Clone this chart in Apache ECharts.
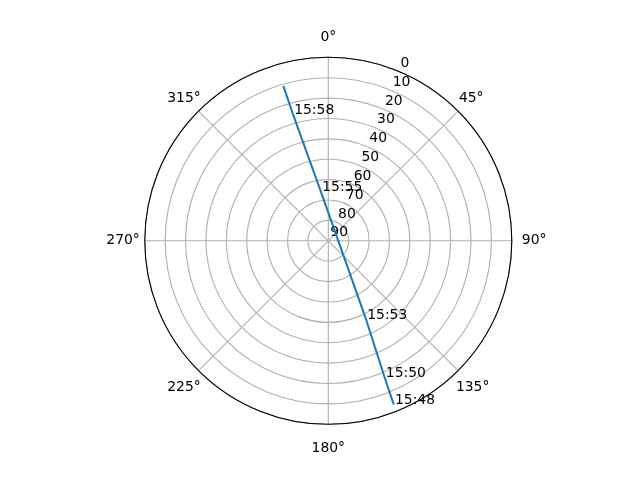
<!DOCTYPE html>
<html><head><meta charset="utf-8">
<script src="https://cdn.jsdelivr.net/npm/echarts@6/dist/echarts.min.js"></script>
<style>html,body{margin:0;padding:0;background:#fff}#c{width:640px;height:480px}</style>
</head><body><div id="c"></div>
<script>
const angleTicks = [0, 45, 90, 135, 180, 225, 270, 315];
const radiusTicks = [0, 10, 20, 30, 40, 50, 60, 70, 80, 90];
const trackElevation = [3.6, 17.6, 47.4, 65.7, 25.5, 10.9];
const trackAzimuth = [158.2, 157.6, 154.3, 351.5, 344.4, 343.8];
const trackTimes = ['15:48', '15:50', '15:53', '15:55', '15:58', ''];

const FONT = 'DejaVu Sans';
const FS = 13.9;
const C = [328.3, 240.8];
const R = 183.5;

function angleLabel(v) {
  if (angleTicks.indexOf(v) < 0) return '';
  const t = v + '°';
  const styleKey = {0: 'h', 180: 'h', 90: 'v2', 270: 'v3', 45: 'd2', 135: 'd3', 225: 'd3', 315: 'd3'}[v];
  return '{' + styleKey + '|' + t + '}';
}
const base = {color: '#000', fontSize: FS, fontFamily: FONT};

const chart = echarts.init(document.getElementById('c'), null, {renderer: 'canvas'});
chart.setOption({
  animation: false,
  backgroundColor: '#fff',
  textStyle: {fontFamily: FONT},
  polar: [
    {center: C, radius: R},
    {center: C, radius: R}
  ],
  angleAxis: [
    {
      polarIndex: 0, type: 'value', min: 0, max: 360, interval: 45,
      startAngle: 90, clockwise: true,
      axisLine: {lineStyle: {color: '#000', width: 1.1}},
      axisTick: {show: false},
      splitLine: {lineStyle: {color: '#b0b0b0', width: 1.1}},
      axisLabel: {
        color: '#000', fontSize: FS, fontFamily: FONT, margin: -3,
        formatter: angleLabel,
        rich: {
          h: Object.assign({padding: [20, 0, 16, 0]}, base),
          v2: Object.assign({padding: [0, 13, 0, 13]}, base),
          v3: Object.assign({padding: [0, 8, 0, 8]}, base),
          d2: Object.assign({padding: [8, 3, 8, 3]}, base),
          d3: Object.assign({padding: [12, 0, 8, 0]}, base)
        }
      }
    },
    {polarIndex: 1, type: 'value', min: 0, max: 360, startAngle: 67.5, clockwise: true, show: false}
  ],
  radiusAxis: [
    {
      polarIndex: 0, type: 'value', min: 0, max: 90, interval: 10, inverse: true,
      axisLine: {show: false}, axisTick: {show: false}, axisLabel: {show: false},
      splitLine: {lineStyle: {color: '#b0b0b0', width: 1.1}}
    },
    {
      polarIndex: 1, type: 'value', min: 0, max: 90, interval: 10, inverse: true,
      axisLine: {show: false}, axisTick: {show: false}, splitLine: {show: false},
      axisLabel: {
        color: '#000', fontSize: FS, fontFamily: FONT, margin: 0,
        align: 'left', verticalAlign: 'bottom', padding: [0, 0, 1, 2],
        formatter: v => (radiusTicks.indexOf(v) >= 0 ? String(v) : '')
      }
    }
  ],
  series: [
    {
      type: 'line', coordinateSystem: 'polar', polarIndex: 0,
      data: trackElevation.map((e, i) => [e, trackAzimuth[i]]),
      showSymbol: false, symbol: 'none',
      lineStyle: {color: '#1f77b4', width: 2},
      z: 3
    },
    {
      type: 'scatter', coordinateSystem: 'polar', polarIndex: 0,
      data: trackElevation.map((e, i) => ({value: [e, trackAzimuth[i]], name: trackTimes[i]})).filter(d => d.name),
      symbolSize: 0.5,
      itemStyle: {color: '#1f77b4', opacity: 1},
      label: {
        show: true, position: 'right', distance: 0, formatter: p => p.name,
        color: '#000', opacity: 1, fontSize: FS, fontFamily: FONT, textBorderWidth: 0,
        align: 'left', verticalAlign: 'bottom', offset: [1, 3]
      },
      z: 4
    }
  ]
});
</script>
</body></html>
